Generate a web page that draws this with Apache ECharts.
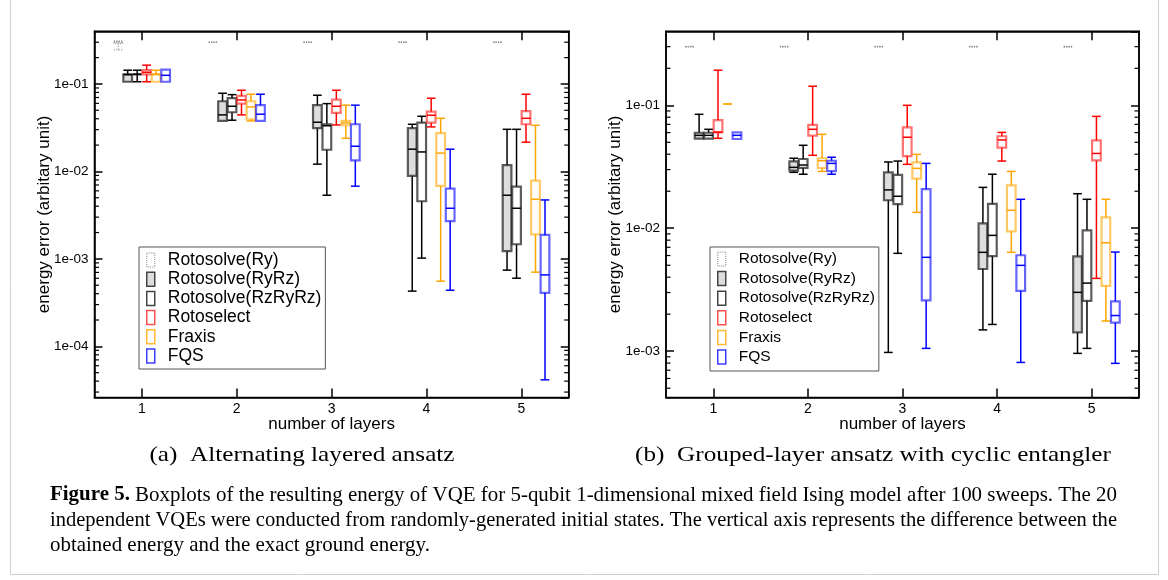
<!DOCTYPE html>
<html><head><meta charset="utf-8">
<script src="https://cdn.jsdelivr.net/npm/echarts@6/dist/echarts.min.js"></script>
<style>html,body{margin:0;padding:0;background:#fff}#c{width:1168px;height:580px}</style>
</head><body><div id="c"></div>
<script>
// ---------------- data ----------------
const categories = ['1', '2', '3', '4', '5'];
const methods = ['Rotosolve(Ry)', 'Rotosolve(RyRz)', 'Rotosolve(RzRyRz)', 'Rotoselect', 'Fraxis', 'FQS'];
const leftRange = [2.6e-5, 0.4];
const rightRange = [4.2e-4, 0.4];
// each row: [min, q1, median, q3, max] for layers 1..5
// (a) Alternating layered ansatz
const L_Ry = [[0.245,0.29,0.30,0.305,0.31],[0.297,0.298,0.30,0.302,0.303],[0.297,0.298,0.30,0.302,0.303],[0.297,0.298,0.30,0.302,0.303],[0.297,0.298,0.30,0.302,0.303]];
const L_RyRz = [[0.106,0.106,0.128,0.129,0.1436],[0.0378,0.0378,0.0443,0.0634,0.0783],[0.0121,0.0312,0.0365,0.0572,0.0743],[0.000428,0.00889,0.01795,0.0312,0.0346],[0.000743,0.001225,0.00534,0.01178,0.0303]];
const L_RzRyRz = [[0.106,0.129,0.129,0.129,0.1436],[0.0385,0.0475,0.0556,0.0687,0.0755],[0.00534,0.0177,0.0333,0.0346,0.0596],[0.00102,0.00456,0.0167,0.0361,0.0427],[0.000601,0.00147,0.00379,0.0067,0.0303]];
const L_Rotoselect = [[0.106,0.129,0.136,0.1436,0.164],[0.0443,0.0596,0.0656,0.0729,0.0847],[0.034,0.0467,0.0556,0.0662,0.0847],[0.0323,0.0361,0.0439,0.0482,0.0687],[0.0216,0.0346,0.0405,0.0488,0.0763]];
const L_Fraxis = [[0.106,0.106,0.129,0.129,0.1436],[0.0378,0.0395,0.0546,0.0634,0.0763],[0.0239,0.0337,0.0358,0.0378,0.0572],[0.000556,0.00683,0.0162,0.0274,0.0405],[0.000705,0.00191,0.00481,0.00785,0.0337]];
const L_FQS = [[0.106,0.106,0.1256,0.1456,0.1456],[0.0378,0.0378,0.0451,0.0572,0.0763],[0.00678,0.0134,0.0194,0.0346,0.0572],[0.000438,0.0027,0.00379,0.00635,0.01795],[4.14e-5,0.000408,0.000656,0.00188,0.00472]];
// (b) Grouped-layer ansatz with cyclic entangler
const R_Ry = [[0.297,0.298,0.30,0.302,0.303],[0.297,0.298,0.30,0.302,0.303],[0.297,0.298,0.30,0.302,0.303],[0.297,0.298,0.30,0.302,0.303],[0.297,0.298,0.30,0.302,0.303]];
const R_RyRz = [[0.0535,0.0535,0.057,0.0598,0.0845],[0.0285,0.0294,0.0313,0.035,0.0371],[0.000977,0.0169,0.0205,0.0285,0.0346],[0.00149,0.00466,0.00637,0.01096,0.0215],[0.00096,0.00142,0.00301,0.0059,0.0191]];
const R_RzRyRz = [[0.0535,0.0535,0.057,0.0598,0.0638],[0.0275,0.031,0.0327,0.0366,0.0473],[0.00625,0.01573,0.0182,0.0272,0.0352],[0.00165,0.00594,0.00875,0.0158,0.0275],[0.001054,0.00257,0.00358,0.00962,0.0172]];
const R_Rotoselect = [[0.0539,0.0602,0.0605,0.0759,0.193],[0.0392,0.0566,0.0638,0.0692,0.143],[0.0331,0.0386,0.055,0.0662,0.1],[0.0352,0.0452,0.0523,0.056,0.0602],[0.00391,0.0356,0.0406,0.0519,0.0813]];
const R_Fraxis = [[0.1025,0.1025,0.1025,0.1025,0.1025],[0.029,0.0309,0.0354,0.0371,0.0581],[0.01346,0.0253,0.0307,0.0343,0.0399],[0.00637,0.00944,0.014,0.0223,0.029],[0.00176,0.0034,0.00762,0.01227,0.0172]];
const R_FQS = [[0.0532,0.0532,0.057,0.0602,0.0602],[0.0275,0.0292,0.0337,0.0354,0.0378],[0.001054,0.00259,0.0058,0.0208,0.0337],[0.00081,0.0031,0.00499,0.00603,0.0172],[0.000796,0.00171,0.00195,0.00254,0.0064]];

const subCaptionA = '(a)  Alternating layered ansatz';
const subCaptionB = '(b)  Grouped-layer ansatz with cyclic entangler';
const captionLead = 'Figure 5.';
const captionLines = [
  'Boxplots of the resulting energy of VQE for 5-qubit 1-dimensional mixed field Ising model after 100 sweeps. The 20',
  'independent VQEs were conducted from randomly-generated initial states. The vertical axis represents the difference between the',
  'obtained energy and the exact ground energy.'
];

// ---------------- styles ----------------
const FONT = '"Liberation Sans", Arial, sans-serif';
const SERIF = '"Liberation Serif", "Times New Roman", serif';
const styles = [
  {line:'#8a8a8a', box:'#8a8a8a', fill:'none', lw:1, boxLw:1, dash:[1.2,1.2]},
  {line:'#000', box:'rgba(30,30,30,0.72)', fill:'#dcdddc', lw:1.5, boxLw:2.2, dash:null},
  {line:'#000', box:'rgba(30,30,30,0.72)', fill:'#ffffff', lw:1.5, boxLw:2.2, dash:null},
  {line:'#ff0000', box:'rgba(255,0,0,0.55)', fill:'#ffffff', lw:1.5, boxLw:2.2, dash:null},
  {line:'#ffa500', box:'rgba(255,165,0,0.6)', fill:'#ffffff', lw:1.5, boxLw:2.2, dash:null},
  {line:'#0000ff', box:'rgba(0,0,255,0.6)', fill:'#ffffff', lw:1.5, boxLw:2.2, dash:null}
];
const legendItemStyles = [
  {color:'#fff', borderColor:'#888', borderWidth:1, borderType:'dotted'},
  {color:'#dcdddc', borderColor:'#444', borderWidth:1.5},
  {color:'#fff', borderColor:'#444', borderWidth:1.5},
  {color:'#fff', borderColor:'#ff5050', borderWidth:1.5},
  {color:'#fff', borderColor:'#ffb833', borderWidth:1.5},
  {color:'#fff', borderColor:'#3c3cff', borderWidth:1.5}
];

function boxRenderer(slot, st) {
  return function (params, api) {
    const cat = api.value(0);
    const xa = api.coord([0, api.value(3)])[0];
    const xb = api.coord([1, api.value(3)])[0];
    const bw = xb - xa;
    const cx = api.coord([cat, api.value(3)])[0] + (slot - 2.5) * bw * 0.1;
    const hw = bw * 0.046;
    const yv = i => api.coord([cat, api.value(i)])[1];
    const yMin = yv(1), yQ1 = yv(2), yMed = yv(3), yQ3 = yv(4), yMax = yv(5);
    const ws = {stroke: st.line, lineWidth: st.lw, lineDash: st.dash, fill: null};
    const ln = (x1, y1, x2, y2) => ({type: 'line', shape: {x1, y1, x2, y2}, style: ws});
    const ch = [];
    if (yMax < yQ3 - 0.5) ch.push(ln(cx, yQ3, cx, yMax), ln(cx - hw, yMax, cx + hw, yMax));
    if (yMin > yQ1 + 0.5) ch.push(ln(cx, yQ1, cx, yMin), ln(cx - hw, yMin, cx + hw, yMin));
    ch.push({type: 'rect', shape: {x: cx - hw, y: yQ3, width: 2 * hw, height: yQ1 - yQ3},
      style: {fill: st.fill === 'none' ? null : st.fill, stroke: st.box, lineWidth: st.boxLw, lineDash: st.dash}});
    ch.push(ln(cx - hw, yMed, cx + hw, yMed));
    return {type: 'group', children: ch};
  };
}

function minorTickValues(range) {
  const out = [];
  for (let k = -6; k <= 0; k++) for (let m = 2; m <= 9; m++) {
    const v = m * Math.pow(10, k);
    if (v > range[0] && v < range[1]) out.push([0, v]);
  }
  return out;
}
function minorRenderer(params, api) {
  const cs = params.coordSys;
  const y = api.coord([0, api.value(1)])[1];
  const s = {stroke: '#000', lineWidth: 1.2};
  return {type: 'group', children: [
    {type: 'line', shape: {x1: cs.x, y1: y, x2: cs.x + 4.5, y2: y}, style: s},
    {type: 'line', shape: {x1: cs.x + cs.width, y1: y, x2: cs.x + cs.width - 4.5, y2: y}, style: s}
  ]};
}

function fmtExp(v) {
  const e = Math.log10(v);
  if (Math.abs(e - Math.round(e)) > 1e-6) return '';
  const r = Math.round(e);
  return '1e' + (r < 0 ? '-' : '+') + String(Math.abs(r)).padStart(2, '0');
}

const panels = [
  {grid: {left: 94.5, top: 31.3, width: 474.2, height: 366.2}, range: leftRange,
   data: [L_Ry, L_RyRz, L_RzRyRz, L_Rotoselect, L_Fraxis, L_FQS],
   legend: {left: 139, top: 247, fontSize: 17.5, gap: 1.2, padding: [4, 4, 4, 7]}},
  {grid: {left: 666, top: 31.3, width: 473, height: 366.2}, range: rightRange,
   data: [R_Ry, R_RyRz, R_RzRyRz, R_Rotoselect, R_Fraxis, R_FQS],
   legend: {left: 710, top: 247, fontSize: 15.5, gap: 3.6, padding: [4, 4, 6, 7]}}
];

const option = {
  animation: false,
  backgroundColor: '#fff',
  grid: [], xAxis: [], yAxis: [], series: [], legend: [], graphic: []
};

panels.forEach((p, gi) => {
  option.grid.push(Object.assign({show: true, borderColor: '#000', borderWidth: 1.5, backgroundColor: '#fff'}, p.grid));
  const xBase = {type: 'category', data: categories, gridIndex: gi, boundaryGap: true,
    axisLine: {show: true, lineStyle: {color: '#000', width: 1.5}},
    axisTick: {show: true, inside: true, alignWithLabel: true, length: 9, lineStyle: {color: '#000', width: 1.5}},
    splitLine: {show: false}};
  option.xAxis.push(Object.assign({}, xBase, {position: 'bottom',
    axisLabel: {show: true, color: '#000', fontSize: 14, fontFamily: FONT, margin: 5},
    name: 'number of layers', nameLocation: 'middle', nameGap: 18, nameMoveOverlap: false,
    nameTextStyle: {color: '#000', fontSize: 17, fontFamily: FONT, verticalAlign: 'top'}}));
  option.xAxis.push(Object.assign({}, xBase, {position: 'top', axisLabel: {show: false}}));
  const yBase = {type: 'log', logBase: 10, gridIndex: gi, min: p.range[0], max: p.range[1],
    axisLine: {show: true, lineStyle: {color: '#000', width: 1.5}},
    axisTick: {show: true, inside: true, length: 8, lineStyle: {color: '#000', width: 1.5}},
    splitLine: {show: false}, minorTick: {show: false}};
  option.yAxis.push(Object.assign({}, yBase, {position: 'left',
    axisLabel: {show: true, color: '#000', fontSize: 13.5, fontFamily: FONT, margin: 6, formatter: fmtExp,
      showMinLabel: false, showMaxLabel: false},
    name: 'energy error (arbitary unit)', nameLocation: 'middle', nameGap: 42, nameRotate: 90, nameMoveOverlap: false,
    nameTextStyle: {color: '#000', fontSize: 17, fontFamily: FONT}}));
  option.yAxis.push(Object.assign({}, yBase, {position: 'right', axisLabel: {show: false}}));

  methods.forEach((m, si) => {
    option.series.push({
      type: 'custom', name: m, xAxisIndex: gi * 2, yAxisIndex: gi * 2,
      itemStyle: {color: styles[si].line},
      encode: {x: 0, y: [1, 2, 3, 4, 5]},
      data: p.data[si].map((r, ci) => [ci].concat(r)),
      renderItem: boxRenderer(si, styles[si]), silent: true, z: 3
    });
  });
  option.series.push({
    type: 'custom', name: 'minorTicks' + gi, xAxisIndex: gi * 2, yAxisIndex: gi * 2,
    encode: {x: 0, y: 1}, data: minorTickValues(p.range), renderItem: minorRenderer, silent: true, z: 4
  });

  option.legend.push({
    orient: 'vertical', left: p.legend.left, top: p.legend.top,
    backgroundColor: '#fff', borderColor: '#555', borderWidth: 1, borderRadius: 0,
    padding: p.legend.padding, itemGap: p.legend.gap, itemWidth: 8, itemHeight: 14, icon: 'rect',
    selectedMode: false,
    textStyle: {color: '#000', fontSize: p.legend.fontSize, fontFamily: FONT, lineHeight: 14, padding: [0, 0, 0, 8]},
    data: methods.map((m, i) => ({name: m, icon: 'rect', itemStyle: legendItemStyles[i]}))
  });
});

// justified caption: stretch lines 1-2 to the same right margin
const capLeft = 50, capRight = 1117, capSize = 21;
const mctx = document.createElement('canvas').getContext('2d');
function textW(t, bold) { mctx.font = (bold ? 'bold ' : '') + capSize + 'px ' + SERIF; return mctx.measureText(t).width; }
const w0 = textW(captionLead + ' ', true) + textW(captionLines[0], false);
const w1 = textW(captionLines[1], false);
const sx0 = (capRight - capLeft) / w0, sx1 = (capRight - capLeft) / w1;

option.graphic = [
  {type: 'rect', shape: {x: 10.5, y: -2, width: 1148, height: 576.5}, style: {fill: null, stroke: '#cfcfcf', lineWidth: 1}, silent: true},
  {type: 'text', x: 302, y: 455, scaleX: 1.2, style: {text: subCaptionA, font: '21px ' + SERIF, fill: '#000', textAlign: 'center', textVerticalAlign: 'middle'}},
  {type: 'text', x: 873, y: 455, scaleX: 1.2, style: {text: subCaptionB, font: '21px ' + SERIF, fill: '#000', textAlign: 'center', textVerticalAlign: 'middle'}},
  {type: 'text', x: capLeft, y: 495, scaleX: sx0, style: {
    text: '{b|' + captionLead + '} ' + captionLines[0], fill: '#000', textVerticalAlign: 'middle',
    font: capSize + 'px ' + SERIF, rich: {b: {font: 'bold ' + capSize + 'px ' + SERIF, fill: '#000'}}}},
  {type: 'text', x: capLeft, y: 520, scaleX: sx1, style: {text: captionLines[1], font: capSize + 'px ' + SERIF, fill: '#000', textVerticalAlign: 'middle'}},
  {type: 'text', x: capLeft, y: 545, scaleX: sx0, style: {text: captionLines[2], font: capSize + 'px ' + SERIF, fill: '#000', textVerticalAlign: 'middle'}}
];

const chart = echarts.init(document.getElementById('c'), null, {renderer: 'canvas'});
chart.setOption(option);
</script></body></html>
